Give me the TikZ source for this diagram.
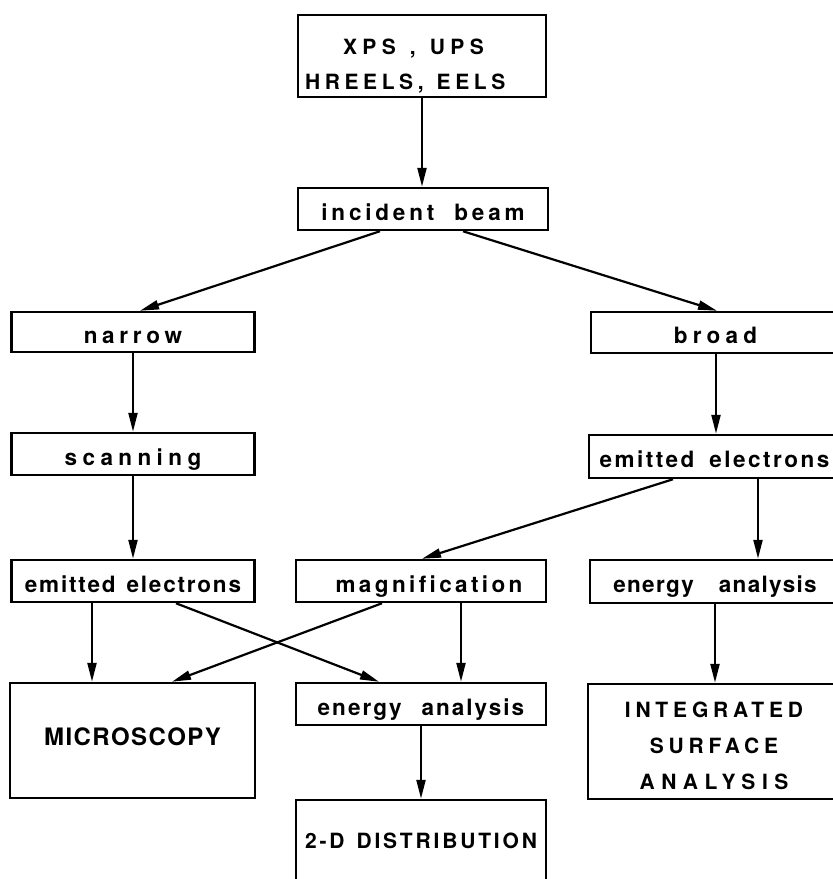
\documentclass[tikz,border=0pt]{standalone}
\usepackage{fontspec}
\newfontfamily\lblfont{TeX Gyre Heros}[Ligatures=CommonOff]
\usetikzlibrary{arrows.meta}
\newcommand\lblsty[2]{\lblfont\bfseries\fontsize{#1}{#1}\selectfont\addfontfeature{LetterSpace=#2}}
\newcommand\wsp[1]{\spaceskip=#1pt\relax}
\tikzset{
  bx/.style={draw, line width=2.5pt, rectangle, inner sep=0pt},
  one/.style={text height=22pt, text depth=0pt},
  fnt/.style 2 args={font=\lblsty{#1}{#2}},
  arr/.style={line width=2.2pt, -{Triangle[length=19pt,width=9pt]}},
}
\begin{document}
\begin{tikzpicture}[x=1pt,y=-1pt]
\useasboundingbox (0,0) rectangle (833,879);
\clip (0,0) rectangle (833,879);

\node[bx, minimum width=248pt, minimum height=82pt, text width=248pt, align=left,
      font=\lblfont\bfseries\fontsize{21}{35}\selectfont] (top) at (422,56)
  {\rule{0pt}{36pt}\hspace*{45pt}{\addfontfeature{LetterSpace=26}\wsp{14}XPS , UPS}\\
   \hspace*{7pt}{\addfontfeature{LetterSpace=22}\wsp{13}HREELS, EELS}};

\node[bx, one, minimum width=250pt, minimum height=42pt, fnt={22.5}{17}] (inc) at (423,209) {\wsp{20}incident beam};

\node[bx, one, minimum width=243pt, minimum height=40pt, fnt={22.5}{21}] (nar) at (133,332) {narrow};
\node[bx, one, minimum width=249pt, minimum height=41pt, fnt={22.5}{23}] (bro) at (715.5,332.5) {broad};

\node[bx, one, minimum width=243pt, minimum height=42pt, fnt={22.5}{24}] (scan) at (133,454) {scanning};
\node[bx, one, minimum width=251pt, minimum height=43pt, fnt={22.5}{11}] (emr) at (714.5,456.5) {\wsp{15}emitted electrons};

\node[bx, one, minimum width=243pt, minimum height=42pt, fnt={22.5}{8}] (eml) at (133,581) {\wsp{11}emitted electrons};
\node[bx, one, minimum width=250pt, minimum height=42pt, fnt={22.5}{15}] (mag) at (421,581) {\kern16pt magnification};
\node[bx, one, minimum width=250pt, minimum height=43pt, fnt={22.5}{6}] (enr) at (715,581.5) {\wsp{25}energy analysis};

\node[bx, minimum width=245pt, minimum height=115pt, text height=17pt, text depth=8pt, fnt={24}{6}] (mic) at (132.5,740.5) {MICROSCOPY};
\node[bx, one, minimum width=250pt, minimum height=42pt, fnt={22.5}{9}] (enm) at (421,704) {\wsp{20}energy analysis};
\node[bx, minimum width=252pt, minimum height=115pt, align=center,
      font=\lblfont\bfseries\fontsize{21}{36}\selectfont] (int) at (714,741.5)
  {\rule{0pt}{25pt}{\addfontfeature{LetterSpace=23}INTEGRATED}\\
   {\addfontfeature{LetterSpace=23}SURFACE}\\
   {\addfontfeature{LetterSpace=31}ANALYSIS}};

\node[bx, minimum width=250pt, minimum height=84pt, text height=18pt, text depth=6pt, fnt={21}{13.5}] (dist) at (421,842) {\wsp{12}2-D DISTRIBUTION};

\draw[arr] (422,0 |- top.south) -- (422,0 |- inc.north);
\draw[arr] (380,0 |- inc.south) -- (140,0 |- nar.north);
\draw[arr] (463,0 |- inc.south) -- (717,0 |- bro.north);
\draw[arr] (133,0 |- nar.south) -- (133,0 |- scan.north);
\draw[arr] (716,0 |- bro.south) -- (716,0 |- emr.north);
\draw[arr] (133,0 |- scan.south) -- (133,0 |- eml.north);
\draw[arr] (673,0 |- emr.south) -- (422,0 |- mag.north);
\draw[arr] (758,0 |- emr.south) -- (758,0 |- enr.north);
\draw[arr] (92,0 |- eml.south) -- (92,0 |- mic.north);
\draw[arr] (176,0 |- eml.south) -- (379,0 |- enm.north);
\draw[arr] (382,0 |- mag.south) -- (172,0 |- mic.north);
\draw[arr] (461,0 |- mag.south) -- (461,0 |- enm.north);
\draw[arr] (421,0 |- enm.south) -- (421,0 |- dist.north);
\draw[arr] (715,0 |- enr.south) -- (715,0 |- int.north);
\end{tikzpicture}
\end{document}
